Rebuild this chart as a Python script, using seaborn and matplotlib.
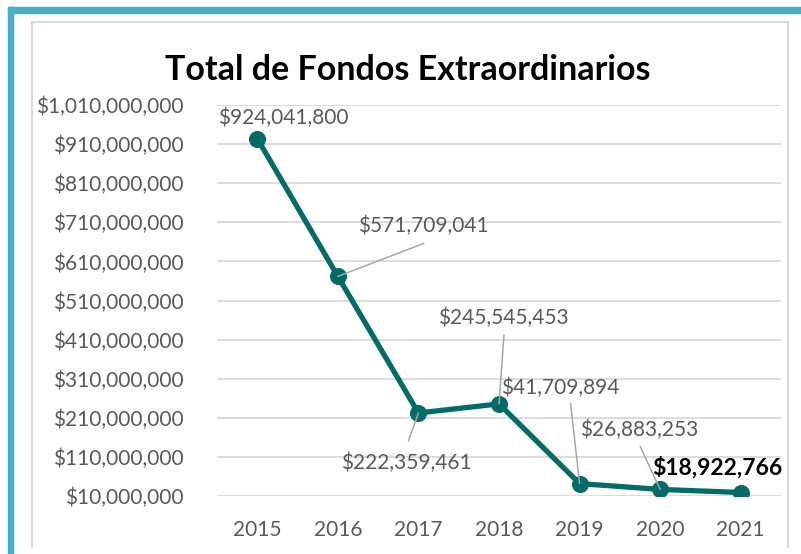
import matplotlib
matplotlib.use("Agg")
import matplotlib.pyplot as plt
import seaborn as sns
from matplotlib.patches import Rectangle
from matplotlib.lines import Line2D
from matplotlib.ticker import FuncFormatter

# data
years = ["2015", "2016", "2017", "2018", "2019", "2020", "2021"]
totals = [924041800, 571709041, 222359461, 245545453, 41709894, 26883253, 18922766]
labels = ["$924,041,800", "$571,709,041", "$222,359,461", "$245,545,453",
          "$41,709,894", "$26,883,253", "$18,922,766"]
y_ticks = list(range(10_000_000, 1_010_000_001, 100_000_000))

# label placement (offset pixels from the point): text, leader end (None = no leader)
text_off = [(26, 21), (85, 50), (-12, -50), (4, 86), (-19, 96), (-21, 60), (-23, 25)]
lead_off = [None, (86, 33), (-10, -28), (5, 69), (-9, 80), (-20, 43), None]

sns.set_style("white")
plt.rcParams["font.family"] = ["Lato", "DejaVu Sans"]

W, H = 801, 554
fig = plt.figure(figsize=(W / 100, H / 100), dpi=100)
ax = fig.add_axes([217 / W, (H - 496) / H, 564 / W, (496 - 105) / H])

line_col = "#046b66"
sns.lineplot(x=years, y=totals, ax=ax, color=line_col, linewidth=3.8,
             marker="o", markersize=11.5, markeredgecolor=line_col, sort=False)

ax.set_xlim(-0.5, 6.5)
ax.set_ylim(10_000_000, 1_010_000_000)
ax.set_yticks(y_ticks)
ax.yaxis.set_major_formatter(FuncFormatter(lambda v, p: f"${v:,.0f}"))
ax.grid(axis="y", color="#d9d9d9", linewidth=1.3)
ax.set_axisbelow(True)
for s in ax.spines.values():
    s.set_visible(False)
ax.tick_params(axis="both", length=0, labelsize=15, labelcolor="#595959")
ax.tick_params(axis="y", pad=24)
ax.tick_params(axis="x", pad=17)
ax.set_xlabel("")
ax.set_ylabel("")

for i, (val, lab) in enumerate(zip(totals, labels)):
    if lead_off[i] is not None:
        ax.annotate("", xy=(i, val), xytext=lead_off[i], textcoords="offset pixels",
                    arrowprops=dict(arrowstyle="-", color="#a6a6a6", lw=1.1,
                                    shrinkA=0, shrinkB=0))
    bold = i == len(totals) - 1
    ax.annotate(lab, xy=(i, val), xytext=text_off[i], textcoords="offset pixels",
                ha="center", va="center", fontsize=16.5 if bold else 15,
                color="black" if bold else "#595959",
                fontweight="bold" if bold else "normal")

fig.text(408 / W, 1 - 70 / H, "Total de Fondos Extraordinarios", ha="center", va="center",
         fontsize=24.5, fontweight="bold", color="black")

# chart frame: gray inner border and teal outer edge
gray = "#d9d9d9"
fig.add_artist(Line2D([32 / W, 32 / W], [1 - 547 / H, 1 - 22 / H], color=gray, lw=1.5))
fig.add_artist(Line2D([788 / W, 788 / W], [1 - 547 / H, 1 - 22 / H], color=gray, lw=1.5))
fig.add_artist(Line2D([32 / W, 788 / W], [1 - 22 / H, 1 - 22 / H], color=gray, lw=1.5))
teal = "#4bacc6"
fig.add_artist(Rectangle((8 / W, 0), 5 / W, 1 - 7 / H, color=teal, transform=fig.transFigure))
fig.add_artist(Rectangle((8 / W, 1 - 13 / H), 1 - 8 / W, 6 / H, color=teal, transform=fig.transFigure))

fig.savefig("out.png", dpi=100)
